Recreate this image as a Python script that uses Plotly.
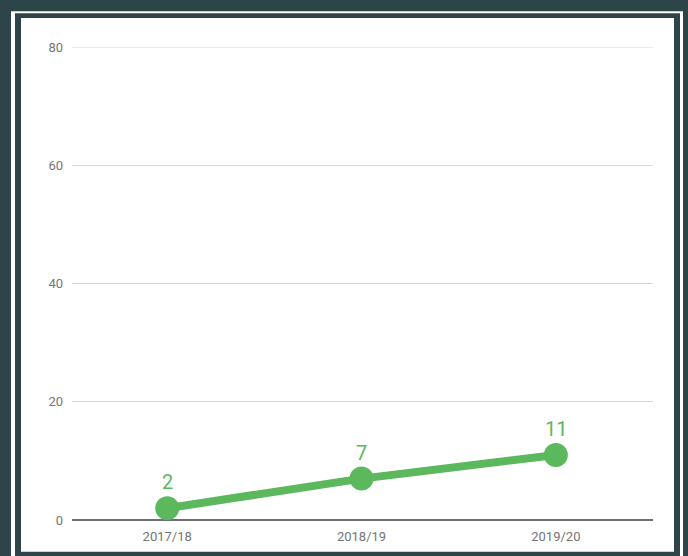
import plotly.graph_objects as go

seasons = ["2017/18", "2018/19", "2019/20"]
values = [2, 7, 11]
y_ticks = [0, 20, 40, 60, 80]

W, H = 688, 556
ML, MR, MT, MB = 72, 35, 47, 34
PW, PH = W - ML - MR, H - MT - MB

DARK = "#2d4448"
GREEN = "#5cb85c"
GRID = "#d6d6d6"
TICK = "#757575"


def px(xp):
    return (xp - ML) / PW


def py(yp):
    return (H - MB - yp) / PH


def rect(x0, y0, x1, y1, color):
    return dict(type="rect", xref="paper", yref="paper", layer="below",
                x0=px(x0), x1=px(x1), y0=py(y1), y1=py(y0),
                fillcolor=color, line=dict(width=0))


fig = go.Figure()
fig.add_trace(go.Scatter(
    x=seasons, y=values, mode="lines+markers",
    line=dict(color=GREEN, width=8),
    marker=dict(color=GREEN, size=24),
    hoverinfo="skip", showlegend=False,
))

for s, v in zip(seasons, values):
    fig.add_annotation(x=s, y=v, text=str(v), showarrow=True, arrowhead=0,
                       arrowwidth=1, arrowcolor="#e6e6e6", ax=0, ay=-26,
                       standoff=12,
                       font=dict(family="Roboto", size=20, color=GREEN))

top_grid = dict(type="line", xref="paper", yref="y", layer="below",
                x0=0, x1=1, y0=y_ticks[-1], y1=y_ticks[-1],
                line=dict(color=GRID, width=1))

fig.update_layout(
    width=W, height=H,
    margin=dict(l=ML, r=MR, t=MT, b=MB, pad=0),
    paper_bgcolor=DARK,
    plot_bgcolor="rgba(0,0,0,0)",
    font=dict(family="Roboto", size=13, color=TICK),
    shapes=[
        rect(11, 11, 683, 600, "#ffffff"),
        rect(15, 13, 680, 600, DARK),
        rect(21, 18, 674, 554, "#ffffff"),
        top_grid,
    ],
    xaxis=dict(type="category", range=[-0.49, 2.5], showgrid=False,
               showline=False, zeroline=False, ticks="",
               ticklabelstandoff=7,
               tickfont=dict(size=13, color=TICK)),
    yaxis=dict(range=[0, 80], tickvals=y_ticks, showgrid=True,
               gridcolor=GRID, gridwidth=1, zeroline=True,
               zerolinecolor="#6f6f6f", zerolinewidth=2, showline=False,
               ticks="", ticklabelstandoff=8,
               tickfont=dict(size=13, color=TICK)),
)

fig.write_html("out.html",
               config={"displayModeBar": False},
               post_script="document.body.style.margin='0';"
                           "document.body.style.background='" + DARK + "';")
